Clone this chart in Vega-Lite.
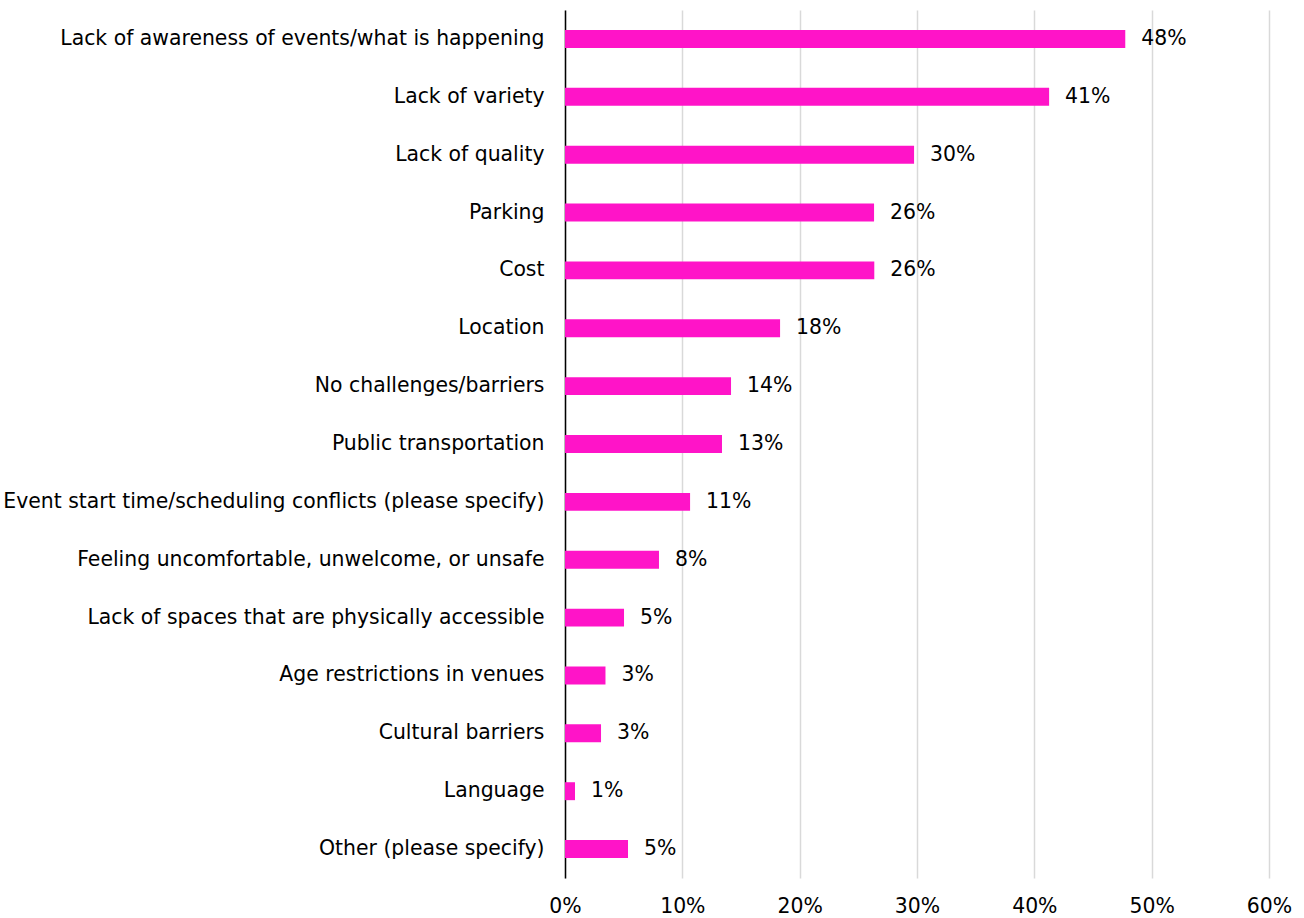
{
  "$schema": "https://vega.github.io/schema/vega-lite/v6.json",
  "autosize": "none",
  "width": 704,
  "height": 868,
  "padding": {"left": 565, "top": 10, "right": 35, "bottom": 40},
  "background": "white",
  "config": {
    "view": {"stroke": null},
    "font": "DejaVu Sans"
  },
  "data": {
    "values": [
      {"category": "Lack of awareness of events/what is happening", "value": 0.4775},
      {"category": "Lack of variety\u00a0\u00a0", "value": 0.4126},
      {"category": "Lack of quality\u00a0\u00a0", "value": 0.2975},
      {"category": "Parking", "value": 0.2634},
      {"category": "Cost", "value": 0.2636},
      {"category": "Location", "value": 0.1833},
      {"category": "No challenges/barriers", "value": 0.1415},
      {"category": "Public transportation", "value": 0.1338},
      {"category": "Event start time/scheduling conflicts (please specify)", "value": 0.1066},
      {"category": "Feeling uncomfortable, unwelcome, or unsafe", "value": 0.0801},
      {"category": "Lack of spaces that are physically accessible", "value": 0.0503},
      {"category": "Age restrictions in venues", "value": 0.0345},
      {"category": "Cultural barriers", "value": 0.0307},
      {"category": "Language", "value": 0.0085},
      {"category": "Other (please specify)", "value": 0.0537}
    ]
  },
  "encoding": {
    "y": {
      "field": "category",
      "type": "nominal",
      "sort": null,
      "scale": {"paddingInner": 0.69, "paddingOuter": 0.345},
      "axis": {
        "title": null,
        "domain": true,
        "domainColor": "#000000",
        "domainWidth": 1.5,
        "ticks": false,
        "labelPadding": 21,
        "labelFontSize": 20.4,
        "labelColor": "#000000",
        "labelLimit": 600
      }
    },
    "x": {
      "field": "value",
      "type": "quantitative",
      "scale": {"domain": [0, 0.6]},
      "axis": {
        "title": null,
        "format": ".0%",
        "values": [0, 0.1, 0.2, 0.3, 0.4, 0.5, 0.6],
        "domain": false,
        "ticks": false,
        "grid": true,
        "gridColor": "#d9d9d9",
        "gridWidth": 1.5,
        "labelFlush": false,
        "labelPadding": 18,
        "labelFontSize": 20.4,
        "labelColor": "#000000"
      }
    }
  },
  "layer": [
    {"mark": {"type": "bar", "color": "#ff14c8"}},
    {
      "mark": {"type": "text", "align": "left", "baseline": "middle", "dx": 16, "fontSize": 20.4, "color": "#000000"},
      "encoding": {"text": {"field": "value", "type": "quantitative", "format": ".0%"}}
    }
  ]
}
